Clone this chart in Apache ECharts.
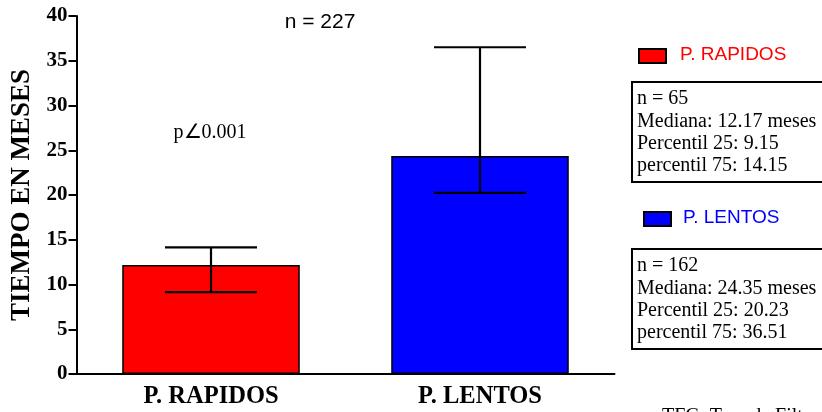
<!DOCTYPE html>
<html>
<head>
<meta charset="utf-8">
<script src="https://cdn.jsdelivr.net/npm/echarts@6/dist/echarts.min.js"></script>
<style>
  html, body { margin: 0; padding: 0; background: #ffffff; }
  #chart { width: 822px; height: 412px; }
</style>
</head>
<body>
<div id="chart"></div>
<script>
// Groups and summary statistics (months)
const categories = ['P. RAPIDOS', 'P. LENTOS'];
const counts = [65, 162];
const medians = [12.17, 24.35];
const p25 = [9.15, 20.23];
const p75 = [14.15, 36.51];
const colors = ['#ff0000', '#0000ff'];
const totalN = 227;
const pText = 'p\u22200.001';
const yTicks = [0, 5, 10, 15, 20, 25, 30, 35, 40];

const SERIF = '"Liberation Serif", "Times New Roman", serif';
const SANS = '"Liberation Sans", Arial, sans-serif';

function summaryLines(i) {
  return [
    'n = ' + counts[i],
    'Mediana: ' + medians[i].toFixed(2) + ' meses',
    'Percentil 25: ' + p25[i].toFixed(2),
    'percentil 75: ' + p75[i].toFixed(2)
  ].join('\n');
}

const chart = echarts.init(document.getElementById('chart'), null, { renderer: 'canvas' });

// Legend blocks with their summary boxes on the right
const legendBlocks = [
  { swatchX: 638, swatchY: 48, textX: 680, textY: 55, boxY: 82 },
  { swatchX: 643, swatchY: 211, textX: 683, textY: 218, boxY: 249 }
];
const graphics = [];
legendBlocks.forEach((b, i) => {
  graphics.push({
    type: 'rect', left: b.swatchX, top: b.swatchY,
    shape: { width: 27, height: 14 },
    style: { fill: colors[i], stroke: '#000', lineWidth: 2 }
  });
  graphics.push({
    type: 'text', x: b.textX, y: b.textY,
    style: { text: categories[i], fill: colors[i], font: '19px ' + SANS, textVerticalAlign: 'middle' }
  });
  graphics.push({
    type: 'rect', shape: { x: 632, y: b.boxY, width: 200, height: 100 },
    style: { fill: '#fff', stroke: '#000', lineWidth: 2 }
  });
  graphics.push({
    type: 'text', x: 637, y: b.boxY + 6,
    style: { text: summaryLines(i), fill: '#000', font: '20px ' + SERIF, lineHeight: 22.3, textVerticalAlign: 'top' }
  });
});
graphics.push({
  type: 'text', x: 320, y: 22,
  style: { text: 'n = ' + totalN, fill: '#000', font: '21px ' + SANS, textAlign: 'center', textVerticalAlign: 'middle' }
});
graphics.push({
  type: 'text', x: 210, y: 133,
  style: { text: pText, fill: '#000', font: '20px ' + SERIF, textAlign: 'center', textVerticalAlign: 'middle' }
});
graphics.push({
  type: 'text', x: 662, y: 407,
  style: { text: 'TFG. Tasa de Filtración Glomerular', fill: '#000', font: '20px ' + SERIF, textVerticalAlign: 'top' }
});

const option = {
  animation: false,
  backgroundColor: '#ffffff',
  grid: { left: 76.5, right: 207.5, top: 16, bottom: 38, containLabel: false, outerBoundsMode: 'none' },
  xAxis: {
    type: 'category',
    data: categories,
    axisLine: { lineStyle: { color: '#000', width: 2 } },
    axisTick: { alignWithLabel: true, length: 7, lineStyle: { color: '#000', width: 2 } },
    axisLabel: { color: '#000', fontFamily: SERIF, fontWeight: 'bold', fontSize: 24.5, margin: 10 }
  },
  yAxis: {
    type: 'value',
    min: yTicks[0],
    max: yTicks[yTicks.length - 1],
    interval: 5,
    name: 'TIEMPO EN MESES',
    nameLocation: 'middle',
    nameGap: 41,
    nameTextStyle: { color: '#000', fontFamily: SERIF, fontWeight: 'bold', fontSize: 27 },
    axisLine: { show: true, lineStyle: { color: '#000', width: 2 } },
    axisTick: { show: true, length: 8, lineStyle: { color: '#000', width: 2 } },
    axisLabel: { color: '#000', fontFamily: SERIF, fontWeight: 'bold', fontSize: 21, margin: 9 },
    splitLine: { show: false }
  },
  series: [
    {
      type: 'bar',
      data: medians.map((v, i) => ({ value: v, itemStyle: { color: colors[i] } })),
      barWidth: '66%',
      itemStyle: { borderColor: '#000', borderWidth: 1.5 },
      z: 2
    },
    {
      type: 'custom',
      data: categories.map((c, i) => [i, p25[i], p75[i]]),
      renderItem: function (params, api) {
        const lo = api.coord([api.value(0), api.value(1)]);
        const hi = api.coord([api.value(0), api.value(2)]);
        const half = api.size([1, 0])[0] * 0.171;
        const style = { stroke: '#000', lineWidth: 2.2 };
        return {
          type: 'group',
          children: [
            { type: 'line', shape: { x1: lo[0], y1: lo[1], x2: hi[0], y2: hi[1] }, style: style },
            { type: 'line', shape: { x1: hi[0] - half, y1: hi[1], x2: hi[0] + half, y2: hi[1] }, style: style },
            { type: 'line', shape: { x1: lo[0] - half, y1: lo[1], x2: lo[0] + half, y2: lo[1] }, style: style }
          ]
        };
      },
      z: 3
    }
  ],
  graphic: graphics
};

chart.setOption(option);
</script>
</body>
</html>
